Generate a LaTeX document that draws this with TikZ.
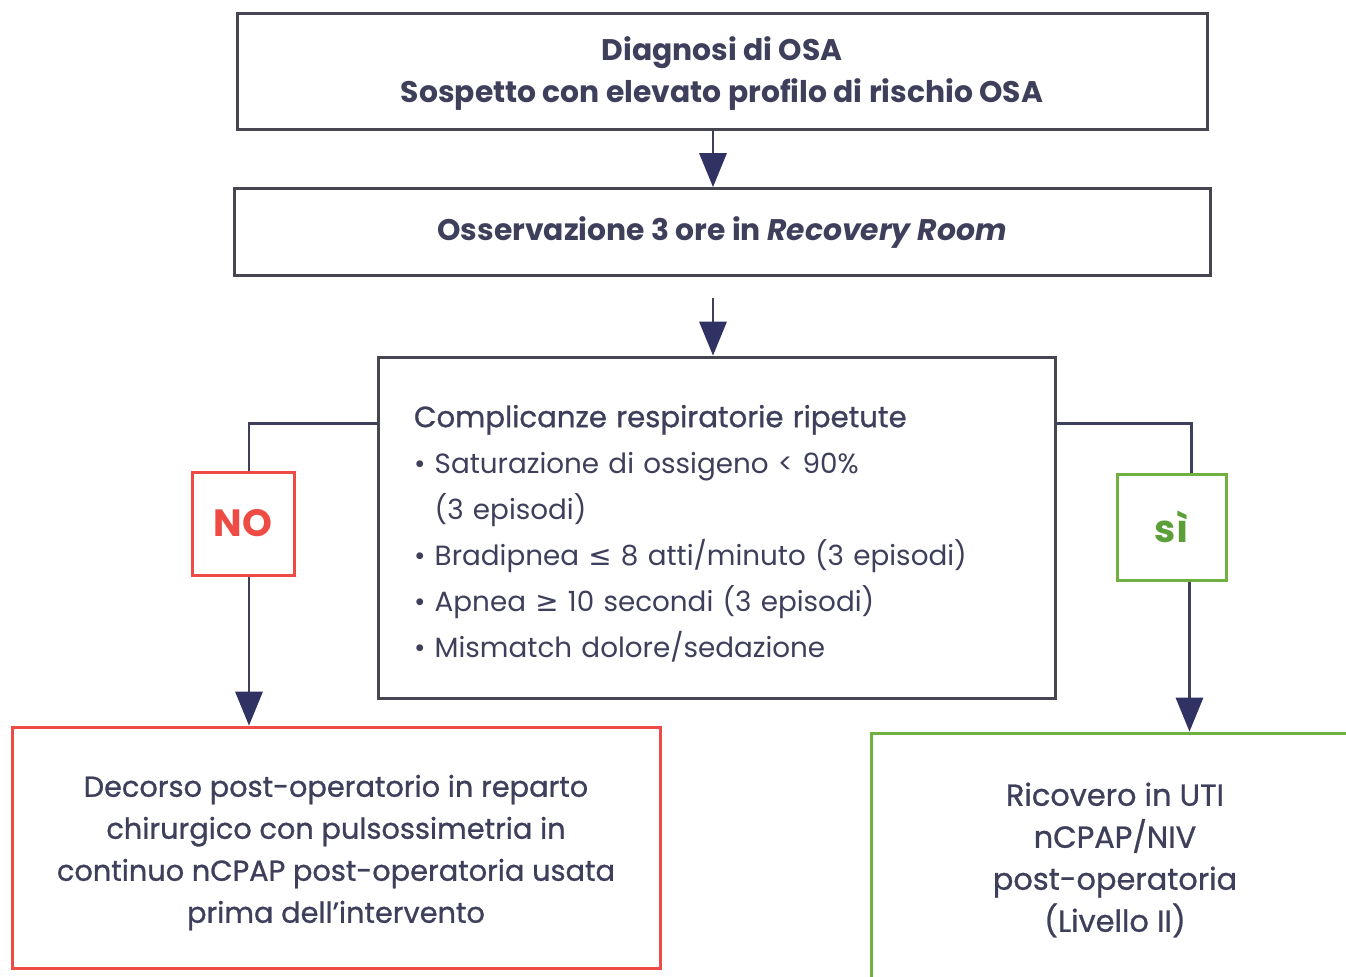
\documentclass[tikz,border=0pt]{standalone}
\usepackage{fontspec}
\setmainfont{Poppins}
\newfontfamily\medf[FakeBold=0.9]{Poppins}
\newfontfamily\symf{DejaVu Sans}
\usetikzlibrary{arrows.meta}
\definecolor{ink}{HTML}{3E3F5B}
\definecolor{boxline}{HTML}{45464F}
\definecolor{arrowfill}{HTML}{2F3262}
\definecolor{redc}{HTML}{EE4B45}
\definecolor{greenc}{HTML}{6FB041}
\definecolor{greentext}{HTML}{5C9E38}
\tikzset{
  box/.style={draw=boxline, line width=1.5pt, inner sep=0pt, align=center, text=ink},
  titlefont/.style={font=\fontsize{14.9}{21}\selectfont\bfseries},
  link/.style={draw=ink, line width=1.3pt},
  arr/.style={link, -{Triangle[length=17pt,width=14pt,fill=arrowfill,line width=0pt]}},
  tag/.style={draw, line width=1.5pt, inner sep=0pt, font=\fontsize{19}{22}\selectfont\bfseries},
}
\begin{document}
\begin{tikzpicture}[x=0.5pt,y=-0.5pt]
\useasboundingbox[fill=white] (0,0) rectangle (1346,976);
\node[box, titlefont, minimum width=485pt, minimum height=58pt] (b1) at (722,71)
  {\rule{0pt}{14pt}Diagnosi di OSA\\Sospetto con elevato profilo di rischio OSA};
\node[box, titlefont, minimum width=488pt, minimum height=43.5pt] (b2) at (722,232)
  {\rule{0pt}{12pt}Osservazione 3 ore in \textit{Recovery Room}};
\node[box, align=left, minimum height=170.5pt, text width=302.5pt, inner xsep=18pt,
      font=\fontsize{13.9}{23}\selectfont] (b3) at (716.5,527.5)
  {\rule{0pt}{17pt}{\medf\fontsize{14.6}{23}\selectfont Complicanze respiratorie ripetute}\\
   \textbullet\ Saturazione di ossigeno < 90\%\\
   \hphantom{\textbullet\ }(3 episodi)\\
   \textbullet\ Bradipnea {\symf ≤} 8 atti/minuto (3 episodi)\\
   \textbullet\ Apnea {\symf ≥} 10 secondi (3 episodi)\\
   \textbullet\ Mismatch dolore/sedazione};
\node[tag, draw=redc, text=redc, minimum width=51pt, minimum height=51.5pt] (no) at (243,523.5) {NO};
\node[tag, draw=greenc, text=greentext, minimum width=54.5pt, minimum height=53pt] (si) at (1171.5,527) {sì};
\node[box, draw=redc, minimum width=324pt, minimum height=120.5pt,
      font=\fontsize{14.4}{21}\selectfont\medf] (rb) at (336,847.5)
  {\rule{0pt}{16pt}Decorso post-operatorio in reparto\\chirurgico con pulsossimetria in\\continuo nCPAP post-operatoria usata\\prima dell’intervento};
\node[box, draw=greenc, minimum width=244pt, minimum height=127pt,
      font=\fontsize{15.2}{21}\selectfont\medf] (gb) at (1115,860)
  {Ricovero in UTI\\nCPAP/NIV\\post-operatoria\\(Livello II)};
\draw[arr] (b1.south -| 713,0) -- (b2.north -| 713,0);
\draw[arr, shorten <=10.5pt] (b2.south -| 713,0) -- (b3.north -| 713,0);
\draw[link] ([yshift=-34pt]b3.north west) -| ([xshift=3pt]no.north);
\draw[arr] ([xshift=3pt]no.south) -- ([xshift=3pt]no.south |- rb.north);
\draw[link] ([yshift=-34pt]b3.north east) -| ([xshift=10pt]si.north);
\draw[arr] ([xshift=9pt]si.south) -- ([xshift=9pt]si.south |- gb.north);
\end{tikzpicture}
\end{document}
